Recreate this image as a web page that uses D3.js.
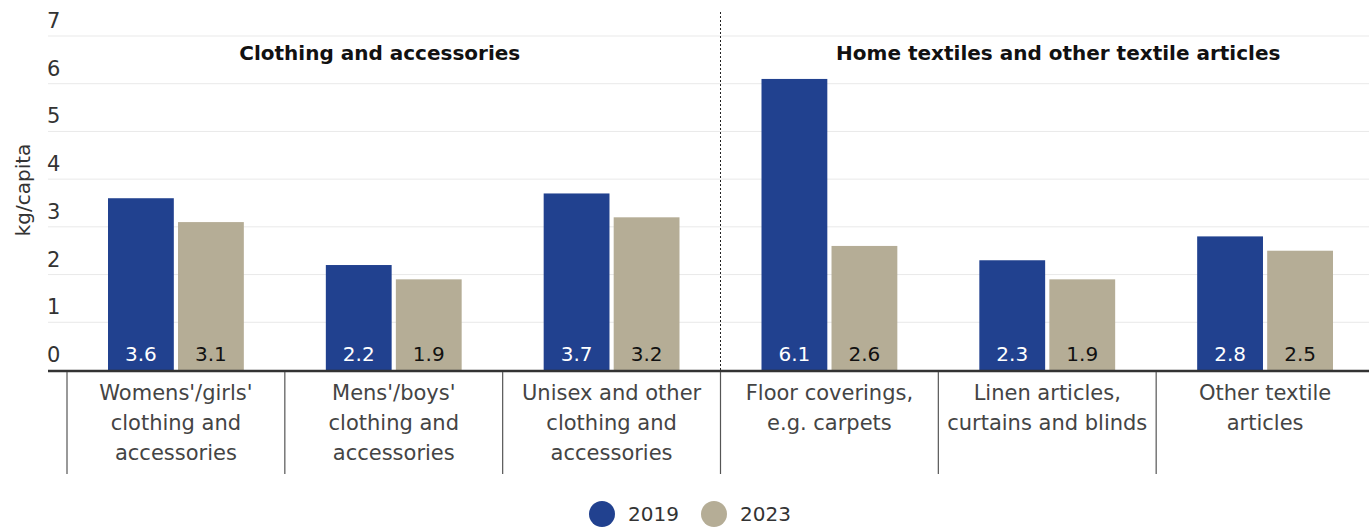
<!DOCTYPE html>
<html>
<head>
<meta charset="utf-8">
<script src="https://cdn.jsdelivr.net/npm/d3@7"></script>
<style>
	body { margin: 0; background: #fff; }
	text { font-family: "DejaVu Sans", sans-serif; }
</style>
</head>
<body>
<svg width="1369" height="529"></svg>
<script>

const categories = [
	["Womens'/girls'", "clothing and", "accessories"],
	["Mens'/boys'", "clothing and", "accessories"],
	["Unisex and other", "clothing and", "accessories"],
	["Floor coverings,", "e.g. carpets"],
	["Linen articles,", "curtains and blinds"],
	["Other textile", "articles"]
];
const values2019 = [3.6, 2.2, 3.7, 6.1, 2.3, 2.8];
const values2023 = [3.1, 1.9, 3.2, 2.6, 1.9, 2.5];
const seriesNames = ['2019', '2023'];
const groupTitles = ['Clothing and accessories', 'Home textiles and other textile articles'];
const yTicks = [0, 1, 2, 3, 4, 5, 6, 7];

const COLORS = ['#21418f', '#b5ad96'];

const svg = d3.select('svg');

const x = d3.scaleBand()
	.domain(d3.range(categories.length))
	.range([67, 1374])
	.paddingInner(0)
	.paddingOuter(0);

const y = d3.scaleLinear().domain([0, 7]).range([370, 36]);

const xInner = d3.scaleBand()
	.domain(seriesNames)
	.range([41, x.bandwidth() - 41])
	.paddingInner(0.06);

// gridlines
svg.append('g')
	.selectAll('line')
	.data(yTicks.slice(1))
	.enter()
	.append('line')
	.attr('x1', 48)
	.attr('x2', 1369)
	.attr('y1', d => y(d))
	.attr('y2', d => y(d))
	.attr('stroke', '#e9e9e9')
	.attr('stroke-width', 1);

// y tick labels
svg.append('g')
	.selectAll('text')
	.data(yTicks)
	.enter()
	.append('text')
	.attr('x', 47)
	.attr('y', d => y(d) - 8)
	.attr('font-size', 21)
	.attr('fill', '#333')
	.text(d => d);

// y title
svg.append('text')
	.attr('transform', 'translate(30,190) rotate(-90)')
	.attr('text-anchor', 'middle')
	.attr('font-size', 20)
	.attr('fill', '#333')
	.text('kg/capita');

// bars
const groups = svg.append('g')
	.selectAll('g')
	.data(categories.map((c, i) => ({ i: i, vals: [values2019[i], values2023[i]] })))
	.enter()
	.append('g')
	.attr('transform', d => 'translate(' + x(d.i) + ',0)');

groups.selectAll('rect')
	.data(d => d.vals.map((v, k) => ({ k: k, v: v })))
	.enter()
	.append('rect')
	.attr('x', d => xInner(seriesNames[d.k]))
	.attr('width', xInner.bandwidth())
	.attr('y', d => y(d.v))
	.attr('height', d => y(0) - y(d.v))
	.attr('fill', d => COLORS[d.k]);

groups.selectAll('text.val')
	.data(d => d.vals.map((v, k) => ({ k: k, v: v })))
	.enter()
	.append('text')
	.attr('class', 'val')
	.attr('x', d => xInner(seriesNames[d.k]) + xInner.bandwidth() / 2)
	.attr('y', y(0) - 9)
	.attr('text-anchor', 'middle')
	.attr('font-size', 20)
	.attr('fill', d => d.k === 0 ? '#fff' : '#111')
	.text(d => d.v.toFixed(1));

// axis line
svg.append('line')
	.attr('x1', 48).attr('x2', 1369)
	.attr('y1', y(0) + 1).attr('y2', y(0) + 1)
	.attr('stroke', '#333').attr('stroke-width', 2.5);

// category separators
svg.append('g')
	.selectAll('line')
	.data(d3.range(categories.length))
	.enter()
	.append('line')
	.attr('x1', d => x(d)).attr('x2', d => x(d))
	.attr('y1', y(0) + 2).attr('y2', 474)
	.attr('stroke', '#555').attr('stroke-width', 1.2);

// category labels
const catLabels = svg.append('g')
	.selectAll('text')
	.data(categories)
	.enter()
	.append('text')
	.attr('text-anchor', 'middle')
	.attr('font-size', 21)
	.attr('fill', '#444')
	.attr('transform', (d, i) => 'translate(' + (x(i) + x.bandwidth() / 2) + ',400)');

catLabels.selectAll('tspan')
	.data(d => d)
	.enter()
	.append('tspan')
	.attr('x', 0)
	.attr('dy', (d, i) => i === 0 ? 0 : 30)
	.text(d => d);

// dashed divider
svg.append('line')
	.attr('x1', x(3)).attr('x2', x(3))
	.attr('y1', 12).attr('y2', y(0))
	.attr('stroke', '#222')
	.attr('stroke-width', 1)
	.attr('stroke-dasharray', '2,2');

// group titles
svg.append('g')
	.selectAll('text')
	.data(groupTitles)
	.enter()
	.append('text')
	.attr('x', (d, i) => i === 0 ? (x(0) + x(3)) / 2 - 14 : (x(3) + x(5) + x.bandwidth()) / 2 + 11)
	.attr('y', 60)
	.attr('text-anchor', 'middle')
	.attr('font-size', 20)
	.attr('font-weight', 'bold')
	.attr('fill', '#111')
	.text(d => d);

// legend
const legend = svg.append('g')
	.selectAll('g')
	.data(seriesNames)
	.enter()
	.append('g')
	.attr('transform', (d, i) => 'translate(' + (602 + i * 112) + ',514)');

legend.append('circle')
	.attr('r', 13)
	.attr('fill', (d, i) => COLORS[i]);

legend.append('text')
	.attr('x', 26)
	.attr('y', 7)
	.attr('font-size', 20)
	.attr('fill', '#333')
	.text(d => d);

</script>
</body>
</html>
